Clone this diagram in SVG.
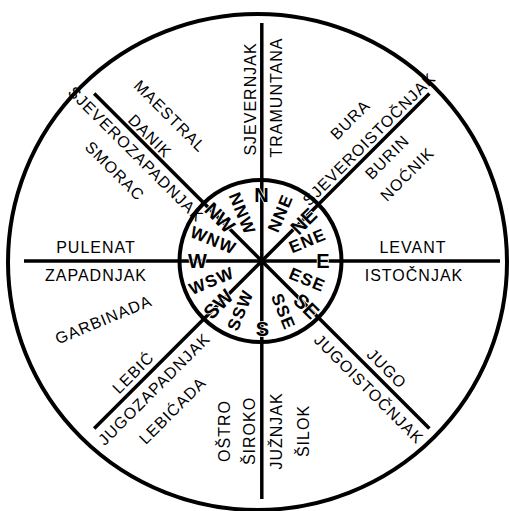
<svg xmlns="http://www.w3.org/2000/svg" width="509" height="511" viewBox="0 0 509 511">
<style>
.o{font-family:"Liberation Sans",Arial,Helvetica,sans-serif;font-size:16px;letter-spacing:1px;text-anchor:middle;fill:#000}
.b{font-family:"Liberation Sans",Arial,Helvetica,sans-serif;font-weight:bold;font-size:17px;letter-spacing:1.2px;text-anchor:middle;fill:#000}
.c{font-size:20px;letter-spacing:0px;stroke:#fff;stroke-width:1.5px;paint-order:stroke}
.ln{stroke:#000;stroke-width:3.5;fill:none}
</style>
<rect width="509" height="511" fill="#fff"/>
<ellipse id="outer" cx="257.5" cy="262" rx="249.5" ry="248" fill="none" stroke="#000" stroke-width="4"/>
<g id="rays" class="ln">
<line x1="261.8" y1="23" x2="261.8" y2="499"/>
<line x1="24" y1="261" x2="500" y2="261"/>
<line x1="94.2" y1="93.4" x2="429.4" y2="428.6"/>
<line x1="429.4" y1="93.4" x2="94.2" y2="428.6"/>
</g>
<circle id="inner" cx="260.5" cy="261" r="81" fill="none" stroke="#000" stroke-width="4"/>
<g id="compass">
<text class="b c" transform="translate(261.5,195)" y="7.2">N</text>
<text class="b c" transform="translate(323,261)" y="7.2">E</text>
<text class="b c" transform="translate(262.5,329)" y="7.2">S</text>
<text class="b c" transform="translate(197.5,261)" y="7.2">W</text>
<text class="b c" transform="translate(303.5,221) rotate(-45)" y="7.2">NE</text>
<text class="b c" transform="translate(306.5,306) rotate(45)" y="7.2">SE</text>
<text class="b c" transform="translate(218,304) rotate(-45)" y="7.2">SW</text>
<text class="b c" transform="translate(220,217.5) rotate(45)" y="7.2">NW</text>
<text class="b" transform="translate(280,213) rotate(-67.5)" y="6.1">NNE</text>
<text class="b" transform="translate(307.5,240.5) rotate(-22.5)" y="6.1">ENE</text>
<text class="b" transform="translate(307.5,279.5) rotate(22.5)" y="6.1">ESE</text>
<text class="b" transform="translate(283.5,311.5) rotate(67.5)" y="6.1">SSE</text>
<text class="b" transform="translate(240,310) rotate(-67.5)" y="6.1">SSW</text>
<text class="b" transform="translate(211.5,280.5) rotate(-22.5)" y="6.1">WSW</text>
<text class="b" transform="translate(213.5,240) rotate(22.5)" y="6.1">WNW</text>
<text class="b" transform="translate(242.5,213.5) rotate(67.5)" y="6.1">NNW</text>
</g>
<g id="north">
<text class="o" transform="translate(250.3,99) rotate(-90)" y="5.7">SJEVERNJAK</text>
<text class="o" transform="translate(275.8,97.5) rotate(-90)" y="5.7">TRAMUNTANA</text>
</g>
<g id="northeast">
<text class="o" transform="translate(350,119.5) rotate(-45)" y="5.7">BURA</text>
<text class="o" transform="translate(369,139) rotate(-45)" y="5.7">SJEVEROISTOČNJAK</text>
<text class="o" transform="translate(387,157) rotate(-45)" y="5.7">BURIN</text>
<text class="o" transform="translate(407,174) rotate(-45)" y="5.7">NOĆNIK</text>
</g>
<g id="east">
<text class="o" x="413" y="253">LEVANT</text>
<text class="o" x="414" y="281">ISTOČNJAK</text>
</g>
<g id="southeast">
<text class="o" transform="translate(387,368.5) rotate(45)" y="5.7">JUGO</text>
<text class="o" transform="translate(369,389) rotate(45)" y="5.7">JUGOISTOČNJAK</text>
</g>
<g id="south">
<text class="o" transform="translate(276,431) rotate(-90)" y="5.7">JUŽNJAK</text>
<text class="o" transform="translate(303.5,431) rotate(-90)" y="5.7">ŠILOK</text>
<text class="o" transform="translate(249,431) rotate(-90)" y="5.7">ŠIROKO</text>
<text class="o" transform="translate(224,431) rotate(-90)" y="5.7">OŠTRO</text>
</g>
<g id="southwest">
<text class="o" transform="translate(133,372.5) rotate(-45)" y="5.7">LEBIĆ</text>
<text class="o" transform="translate(154,389) rotate(-45)" y="5.7">JUGOZAPADNJAK</text>
<text class="o" transform="translate(172.5,410.5) rotate(-45)" y="5.7">LEBIĆADA</text>
<text class="o" transform="translate(103.5,319.5) rotate(-22.5)" y="5.7">GARBINADA</text>
</g>
<g id="west">
<text class="o" x="96" y="253">PULENAT</text>
<text class="o" x="96" y="281">ZAPADNJAK</text>
</g>
<g id="northwest">
<text class="o" transform="translate(170,116) rotate(45)" y="5.7">MAESTRAL</text>
<text class="o" transform="translate(150,136) rotate(45)" y="5.7">DANIK</text>
<text class="o" transform="translate(136,154) rotate(45)" y="5.7">SJEVEROZAPADNJAK</text>
<text class="o" transform="translate(115,171) rotate(45)" y="5.7">SMORAC</text>
</g>
</svg>
